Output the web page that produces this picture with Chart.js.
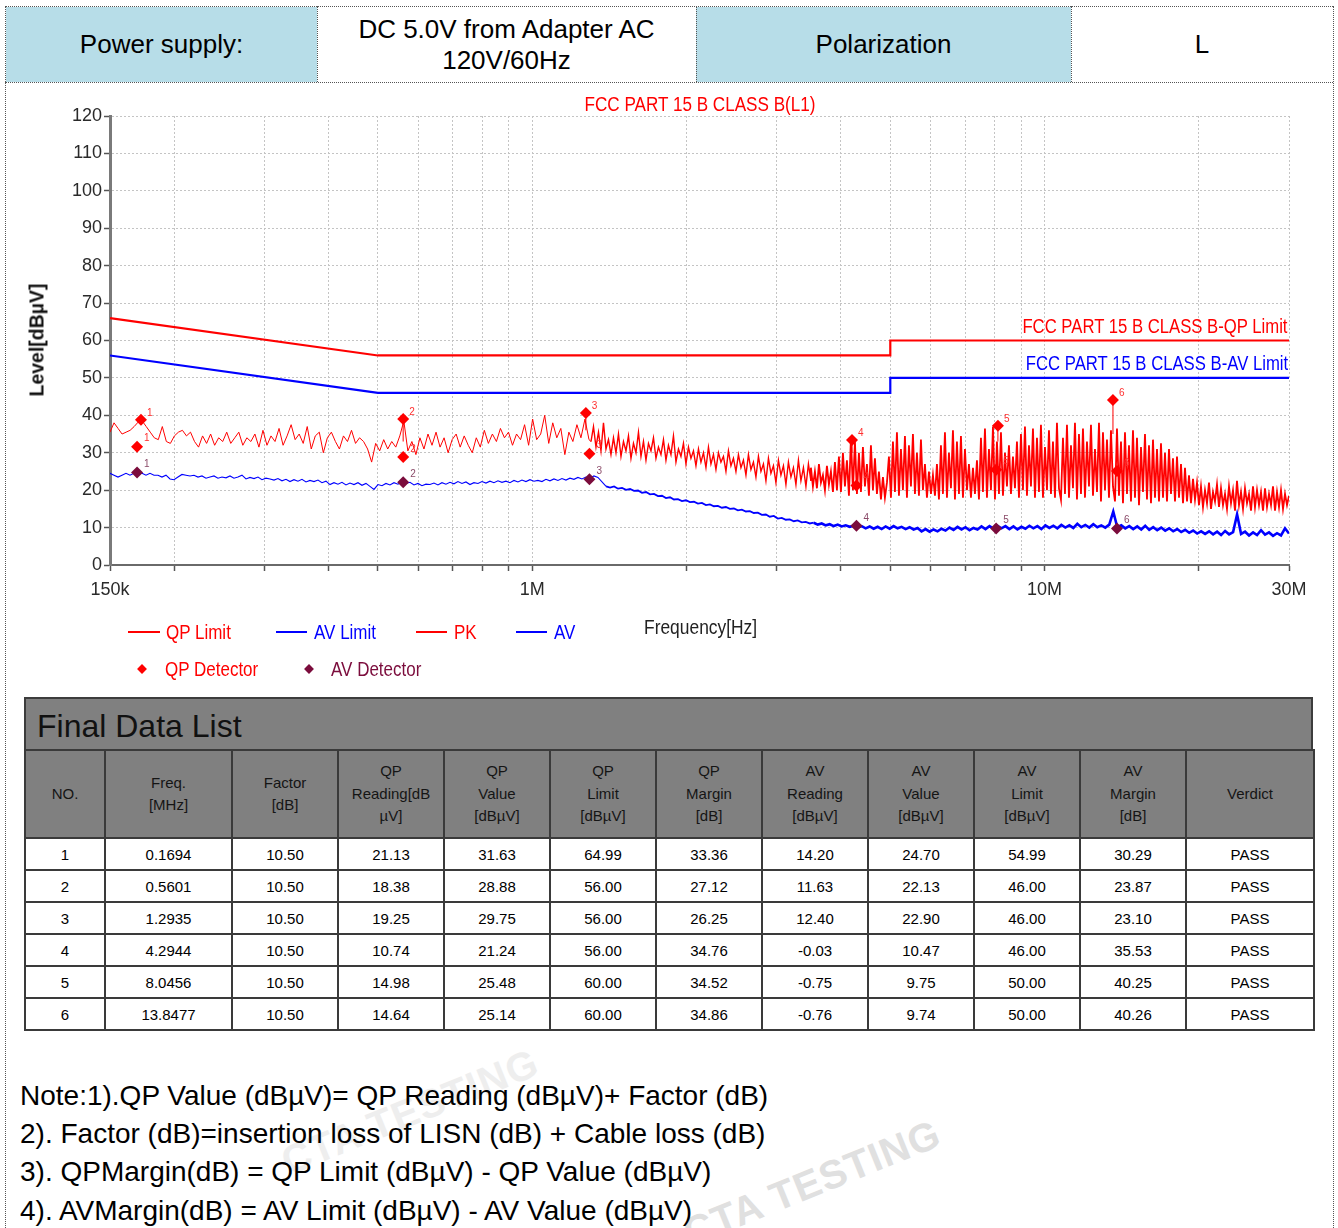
<!DOCTYPE html>
<html>
<head>
<meta charset="utf-8">
<script src="https://cdn.jsdelivr.net/npm/chart.js@4.4.1/dist/chart.umd.min.js"></script>
<style>
  html, body { margin:0; padding:0; background:#fff; }
  body { width:1338px; height:1228px; position:relative; overflow:hidden; font-family:"Liberation Sans", Arial, sans-serif; color:#000; }
  .abs { position:absolute; }
  .narrow { font-family:"Liberation Sans", Arial, sans-serif; font-size:20px; white-space:nowrap; }
  .cell { position:absolute; top:7px; height:75px; display:flex; align-items:center; justify-content:center; text-align:center; font-size:26px; line-height:31px; box-sizing:border-box; }
  .blue { background:#b7dde8; }
  .vdot { position:absolute; border-left:1px dotted #555; }
  .hdot { position:absolute; border-top:1px dotted #555; }
  #final { position:absolute; left:24px; top:697px; width:1289px; }
  #final .title { height:52px; box-sizing:border-box; background:#808080; border:2px solid #3c3c3c; border-bottom:none; font-size:32px; line-height:54px; padding-left:11px; color:#111; }
  #final table { border-collapse:collapse; table-layout:fixed; width:1289px; }
  #final td, #final th { border:2px solid #3a3a3a; text-align:center; padding:0; }
  #final th { background:#808080; font-weight:normal; font-size:15px; line-height:22.5px; height:86px; color:#151515; }
  #final td { height:30px; font-size:15px; color:#000; background:#fff; }
  .note { position:absolute; left:20px; font-size:28px; white-space:nowrap; }
  .lg { position:absolute; transform-origin:left center; transform:translateY(-50%) scaleX(0.85); }
  .lgline { position:absolute; height:2px; }
  .lgdia { position:absolute; width:7px; height:7px; transform:translate(-50%,-50%) rotate(45deg); }
  .wm { position:absolute; font-weight:bold; white-space:nowrap; transform:translate(-50%,-50%) rotate(-22deg); letter-spacing:1px; }
</style>
</head>
<body>
<!-- watermarks -->
<div class="wm" style="left:812px;top:1183px;font-size:40px;color:#e0e0e0;">CTA TESTING</div>
<div class="wm" style="left:410px;top:1112px;font-size:40px;color:#eeeeee;">CTA TESTING</div>

<!-- frame -->
<div class="vdot" style="left:5px;top:6px;height:1222px;"></div>
<div class="vdot" style="left:1333px;top:6px;height:1222px;"></div>
<div class="hdot" style="left:5px;top:6px;width:1328px;"></div>
<div class="hdot" style="left:5px;top:82px;width:1328px;"></div>

<!-- header row -->
<div class="cell blue" style="left:6px;width:311px;">Power supply:</div>
<div class="cell" style="left:317px;width:379px;">DC 5.0V from Adapter AC<br>120V/60Hz</div>
<div class="cell blue" style="left:696px;width:375px;">Polarization</div>
<div class="cell" style="left:1071px;width:262px;">L</div>
<div class="vdot" style="left:317px;top:6px;height:76px;"></div>
<div class="vdot" style="left:696px;top:6px;height:76px;"></div>
<div class="vdot" style="left:1071px;top:6px;height:76px;"></div>

<!-- chart -->
<canvas id="c" width="1326" height="606" style="position:absolute;left:6px;top:84px;width:1326px;height:606px;"></canvas>

<div class="abs narrow" style="left:700px;top:104px;transform:translate(-50%,-50%) scaleX(0.855);color:#ff0000;">FCC PART 15 B CLASS B(L1)</div>
<div class="abs narrow" style="right:50px;top:326px;transform-origin:right center;transform:translateY(-50%) scaleX(0.835);color:#ff0000;">FCC PART 15 B CLASS B-QP Limit</div>
<div class="abs narrow" style="right:50px;top:363px;transform-origin:right center;transform:translateY(-50%) scaleX(0.835);color:#0000ff;">FCC PART 15 B CLASS B-AV Limit</div>
<div class="abs" style="left:37px;top:340px;transform:translate(-50%,-50%) rotate(-90deg);font-size:19.5px;font-weight:bold;color:#111;white-space:nowrap;">Level[dBµV]</div>
<div class="abs narrow" style="left:644px;top:627px;transform-origin:left center;transform:translateY(-50%) scaleX(0.87);color:#222;">Frequency[Hz]</div>

<!-- legend -->
<div class="lgline" style="left:128px;top:631px;width:32px;background:#ff0000;"></div>
<div class="lg narrow" style="left:166px;top:632px;color:#ff0000;">QP Limit</div>
<div class="lgline" style="left:276px;top:631px;width:31px;background:#0000ff;"></div>
<div class="lg narrow" style="left:314px;top:632px;color:#0000ff;">AV Limit</div>
<div class="lgline" style="left:416px;top:631px;width:31px;background:#ff0000;"></div>
<div class="lg narrow" style="left:454px;top:632px;color:#ff0000;">PK</div>
<div class="lgline" style="left:516px;top:631px;width:31px;background:#0000ff;"></div>
<div class="lg narrow" style="left:554px;top:632px;color:#0000ff;">AV</div>
<div class="lgdia" style="left:142px;top:669px;background:#ff0000;"></div>
<div class="lg narrow" style="left:165px;top:669px;color:#ff0000;">QP Detector</div>
<div class="lgdia" style="left:309px;top:669px;background:#7b0c3c;"></div>
<div class="lg narrow" style="left:331px;top:669px;color:#7b0c3c;">AV Detector</div>

<!-- final data list -->
<div id="final">
  <div class="title">Final Data List</div>
  <table id="tbl"></table>
</div>

<!-- notes -->
<div class="note" style="top:1080px;">Note:1).QP Value (dBµV)= QP Reading (dBµV)+ Factor (dB)</div>
<div class="note" style="top:1118px;">2). Factor (dB)=insertion loss of LISN (dB) + Cable loss (dB)</div>
<div class="note" style="top:1156px;">3). QPMargin(dB) = QP Limit (dBµV) - QP Value (dBµV)</div>
<div class="note" style="top:1195px;">4). AVMargin(dB) = AV Limit (dBµV) - AV Value (dBµV)</div>

<script>
// ---------------- DATA ----------------
// Limit lines (frequency in MHz, level in dBµV)
const limitFreqMHz = [0.15, 0.5, 5, 5, 30];
const qpLimitLevel = [66, 56, 56, 60, 60];
const avLimitLevel = [56, 46, 46, 50, 50];

// PK sweep, in four frequency bands (start/stop MHz) with read-off levels (dBµV)
const pkBandStartMHz = [0.15, 1.3026, 3.50, 20.2];
const pkBandStopMHz  = [1.291, 3.50, 20.02, 30];
const pkLevels1 = [35.5, 38.0, 36.5, 35.0, 35.5, 36.0, 37.0, 38.2, 38.5, 37.0,
  35.5, 34.0, 33.5, 37.0, 33.0, 32.5, 34.5, 35.5, 36.0, 34.5,
  35.5, 33.0, 31.5, 34.5, 32.5, 35.0, 32.0, 34.0, 33.0, 35.5,
  32.5, 34.0, 35.5, 32.0, 34.0, 33.0, 35.0, 31.5, 36.0, 32.0,
  34.5, 33.0, 36.5, 32.0, 34.5, 37.5, 33.5, 35.0, 32.5, 37.0,
  31.0, 34.5, 35.5, 30.0, 34.0, 35.5, 33.0, 31.0, 34.5, 33.0,
  36.0, 32.5, 34.0, 33.0, 31.0, 27.5, 32.5, 30.5, 33.5, 31.0,
  33.0, 31.5, 34.5, 38.5, 30.5, 33.0, 29.5, 34.0, 31.0, 35.0,
  32.0, 35.5, 31.5, 34.0, 30.0, 33.5, 35.0, 31.5, 34.5, 32.0,
  30.0, 34.0, 31.5, 36.0, 32.5, 35.0, 33.0, 36.5, 34.0, 35.5,
  32.0, 35.0, 33.5, 37.5, 32.0, 39.0, 33.5, 35.0, 40.0, 32.5,
  38.0, 34.0, 36.5, 29.5, 35.5, 33.0, 37.5, 34.0, 39.0, 33.5];
const pkLevels2 = [33.0, 37.0, 31.5, 35.5, 30.5, 38.0, 31.0, 33.5, 29.5, 34.0,
  30.0, 35.0, 29.0, 33.0, 30.5, 34.5, 28.5, 32.5, 30.0, 35.5,
  29.0, 33.0, 28.0, 32.5, 30.5, 34.0, 28.5, 31.5, 29.5, 33.5,
  28.0, 32.0, 29.5, 34.5, 27.5, 31.0, 29.0, 32.5, 27.0, 31.5,
  28.5, 30.5, 26.5, 31.0, 27.5, 30.0, 26.0, 31.5, 27.0, 29.5,
  25.5, 30.0, 27.5, 29.0, 25.0, 30.5, 26.5, 28.5, 25.0, 29.5,
  26.0, 28.0, 24.0, 29.5, 25.5, 27.5, 23.5, 29.0, 25.0, 27.0,
  22.5, 28.5, 24.5, 26.5, 22.0, 28.0, 24.0, 26.5, 21.5, 27.5,
  23.5, 26.0, 21.5, 28.0, 22.5, 26.0, 21.0, 27.0, 22.5];
const pkLevels3 = [26, 21, 25, 20.5, 27, 22, 24, 20, 26.5, 21.5, 25, 19.5, 27.5,
  20, 29, 19.5, 30, 21,
  28, 18.5, 34, 20, 33, 19, 30,
  19.5, 31.5, 21, 27, 18.5, 32, 20, 28.5, 19, 25,
  17.5, 23.5, 18, 22,
  29, 18, 33, 19.5, 35.5, 18.5, 31, 20, 34.5, 18, 32, 21, 35, 19, 30, 18.5, 33.5, 20, 27,
  18, 25, 19, 24, 18.5, 27,
  17.5, 32, 19, 35.5, 18, 30, 20.5, 36, 17.5, 33, 19, 34.5, 18, 31, 20,
  27, 18, 26, 19, 28,
  17.5, 34, 19.5, 36.5, 18, 31, 20, 37, 17.5, 33, 19, 35.5, 18.5, 30, 21,
  32, 19, 29, 20.5, 33,
  18, 35, 20, 37, 18.5, 32, 21, 36.5, 18, 34, 19.5, 37.5, 18, 31.5, 20, 36, 19, 33, 18, 38, 20.5,
  17.5, 34, 19, 37.5, 18, 32, 20.5, 38, 17.5, 35, 19, 36.5, 18, 33, 21, 37.5, 18.5, 31, 19.5, 38, 17, 35.5, 20, 33.5, 18, 36, 21,
  17, 36.5, 18.5, 33, 16.5, 35.5, 19, 32, 17, 36, 18, 34, 16, 31.5, 19.5, 35, 17.5, 32, 16.5, 33.5, 18, 31, 17,
  32.5, 18, 30, 17, 31, 19, 28.5, 17, 29, 18, 27, 16.5, 26,
  17, 24, 16.5, 23, 17.5, 22, 16];
const pkLevels4 = [21, 15.5, 20, 16.5, 22, 15, 19.5, 17, 21.5, 15.5,
  20.5, 16, 19, 15, 21, 16.5, 20, 14.5, 22.5, 16,
  19.5, 15, 20.5, 16.5, 19, 14.5, 21, 15.5, 20, 16,
  19.5, 14.5, 20.5, 15.5, 19, 16, 21, 14.5, 19.5, 15.5,
  20, 15, 19, 16, 18.5];

// AV sweep, two bands
const avBandStartMHz = [0.15, 1.394];
const avBandStopMHz  = [1.344, 30];
const avLevels1 = [24.5, 24.0, 23.5, 24.0, 24.5, 24.0, 24.5, 25.0, 24.5, 24.0,
  24.5, 24.0, 24.0, 23.5, 24.0, 23.0, 22.8, 23.5, 24.2, 24.0,
  23.8, 24.0, 23.5, 23.8, 23.2, 23.5, 23.8, 23.2, 23.5, 23.3,
  23.8, 23.2, 23.5, 24.0, 23.0, 23.4, 23.1, 23.5, 22.8, 23.2,
  23.0, 22.7, 23.1, 22.5, 22.9, 22.3, 22.8, 22.4, 22.9, 22.2,
  22.6, 22.3, 22.7, 22.0, 22.4, 21.5, 22.0, 21.6, 22.1, 21.4,
  21.9, 21.5, 22.0, 21.3, 21.8, 21.0, 20.2, 21.5, 21.2, 21.8,
  21.4, 22.0, 21.6, 22.2, 21.8, 22.1, 21.4, 21.8, 21.2, 21.6,
  21.5, 21.9, 21.4, 22.0, 21.6, 22.1, 21.7, 22.3, 21.8, 22.2,
  21.5, 22.0, 21.8, 22.3, 21.9, 22.4, 22.0, 22.5, 22.1, 22.4,
  22.0, 22.6, 22.2, 22.7, 22.3, 22.8, 22.4, 22.6, 22.3, 22.9,
  22.5, 23.0, 22.6, 23.1, 22.7, 23.2, 22.9, 23.4, 23.0, 23.5,
  23.2, 23.8, 23.4];
const avLevels2 = [21.0, 20.7, 21.0, 20.4, 20.6, 20.1, 20.3, 19.8, 19.9, 19.3,
  19.5, 18.9, 19.0, 18.4, 18.5, 17.9, 18.1, 17.5, 17.6, 17.1,
  17.3, 16.8, 16.9, 16.4, 16.6,
  16.0, 16.2, 15.7, 15.8, 15.3, 15.5, 15.0, 15.1, 14.6, 14.8,
  14.3, 14.4, 13.9, 14.0, 13.4, 13.5, 12.9, 13.1, 12.4, 12.6,
  12.1, 12.2, 11.7, 11.9, 11.4,
  11.5, 11.1, 11.3, 10.8, 11.1, 10.6, 10.9, 10.4, 10.8, 10.3,
  10.6, 10.2, 10.5, 10.0, 10.4, 9.8, 10.3, 9.7, 10.2, 9.6,
  10.3, 9.7, 10.4, 9.8, 10.2,
  9.6, 10.1, 9.5, 9.9, 9.0, 9.6, 8.9, 9.5, 9.0, 9.7,
  9.2, 10.0, 9.4, 10.2, 9.5, 10.1, 9.3, 9.9, 9.5, 10.3,
  9.6, 10.4, 9.7, 10.5, 9.8,
  10.4, 9.6, 10.3, 9.5, 10.2, 9.7, 10.5, 9.8, 10.4, 9.6,
  10.6, 9.9, 10.5, 9.8, 10.7, 10.0, 10.6, 9.9, 11.0, 10.1,
  10.7, 10.0, 10.9, 10.1, 10.6,
  10.0, 10.8, 14.3, 10.1, 10.6, 9.8, 10.4, 9.6, 10.3, 9.5,
  10.5, 9.4, 10.1, 9.3, 10.0, 9.2, 9.8, 9.0, 9.6, 8.8,
  9.4, 8.6, 9.2, 8.4, 9.0,
  8.3, 9.0, 8.2, 8.9, 8.0, 9.1, 8.2, 8.8, 13.5, 8.3,
  8.9, 7.9, 8.7, 8.0, 9.3, 8.1, 8.7, 7.8, 8.5, 7.9,
  9.8, 8.4];

// Markers
const markerNo = ['1', '2', '3', '4', '5', '6'];
const pkMarkFreqMHz = [0.1724, 0.5601, 1.273, 4.21, 8.11, 13.6];
const pkMarkLevel   = [38.8, 39.0, 40.6, 33.4, 37.2, 44.1];
const pkMarkBase    = [37.5, 33.0, 36.0, 30.0, 33.0, 35.0];
const detFreqMHz    = [0.1694, 0.5601, 1.2935, 4.2944, 8.0456, 13.8477];
const qpValue       = [31.63, 28.88, 29.75, 21.24, 25.48, 25.14];
const avValue       = [24.70, 22.13, 22.90, 10.47, 9.75, 9.74];

// Axis ticks
const xGridMHz = [0.15, 0.2, 0.3, 0.4, 0.5, 0.6, 0.7, 0.8, 0.9, 1, 2, 3, 4, 5, 6, 7, 8, 9, 10, 20, 30];
const xTickValue = [0.15, 1, 10, 30];
const xTickText  = ['150k', '1M', '10M', '30M'];

// Final data table
const tblHeaders = ['NO.', 'Freq.<br>[MHz]', 'Factor<br>[dB]', 'QP<br>Reading[dB<br>µV]', 'QP<br>Value<br>[dBµV]', 'QP<br>Limit<br>[dBµV]', 'QP<br>Margin<br>[dB]', 'AV<br>Reading<br>[dBµV]', 'AV<br>Value<br>[dBµV]', 'AV<br>Limit<br>[dBµV]', 'AV<br>Margin<br>[dB]', 'Verdict'];
const tblColWidth = [80, 127, 106, 106, 106, 106, 106, 106, 106, 106, 106, 128];
const tblFreq      = ['0.1694', '0.5601', '1.2935', '4.2944', '8.0456', '13.8477'];
const tblFactor    = [10.50, 10.50, 10.50, 10.50, 10.50, 10.50];
const tblQpReading = [21.13, 18.38, 19.25, 10.74, 14.98, 14.64];
const tblQpLimit   = [64.99, 56.00, 56.00, 56.00, 60.00, 60.00];
const tblQpMargin  = [33.36, 27.12, 26.25, 34.76, 34.52, 34.86];
const tblAvReading = [14.20, 11.63, 12.40, -0.03, -0.75, -0.76];
const tblAvLimit   = [54.99, 46.00, 46.00, 46.00, 50.00, 50.00];
const tblAvMargin  = [30.29, 23.87, 23.10, 35.53, 40.25, 40.26];
const tblVerdict   = ['PASS', 'PASS', 'PASS', 'PASS', 'PASS', 'PASS'];

// ---------------- TABLE ----------------
(function () {
  const t = document.getElementById('tbl');
  let html = '<colgroup>' + tblColWidth.map(w => '<col style="width:' + w + 'px">').join('') + '</colgroup>';
  html += '<tr>' + tblHeaders.map(h => '<th>' + h + '</th>').join('') + '</tr>';
  for (let i = 0; i < markerNo.length; i++) {
    const row = [markerNo[i], tblFreq[i], tblFactor[i].toFixed(2), tblQpReading[i].toFixed(2), qpValue[i].toFixed(2),
      tblQpLimit[i].toFixed(2), tblQpMargin[i].toFixed(2), tblAvReading[i].toFixed(2), avValue[i].toFixed(2),
      tblAvLimit[i].toFixed(2), tblAvMargin[i].toFixed(2), tblVerdict[i]];
    html += '<tr>' + row.map(c => '<td>' + c + '</td>').join('') + '</tr>';
  }
  t.innerHTML = html;
})();

// ---------------- CHART ----------------
const FONT = '"Liberation Sans", Arial, sans-serif';

function sweep(startMHz, stopMHz, levels) {
  const n = levels.length;
  const r = Math.log10(stopMHz / startMHz);
  return levels.map((v, i) => ({ x: startMHz * Math.pow(10, r * i / (n - 1)), y: v }));
}
function pairs(xs, ys) { return xs.map((x, i) => ({ x: x, y: ys[i] })); }

const pkLevels = [pkLevels1, pkLevels2, pkLevels3, pkLevels4];
const pkData = [].concat(...pkLevels.map((lv, i) => sweep(pkBandStartMHz[i], pkBandStopMHz[i], lv)));
const avLevelsAll = [avLevels1, avLevels2];
const avData = [].concat(...avLevelsAll.map((lv, i) => sweep(avBandStartMHz[i], avBandStopMHz[i], lv)));

// marker numbers and peak-marker stems
const markerLabelPlugin = {
  id: 'markerLabels',
  afterDatasetsDraw(chart) {
    const ctx = chart.ctx;
    chart.data.datasets.forEach((ds, i) => {
      if (!ds.markLabels) return;
      const meta = chart.getDatasetMeta(i);
      ctx.save();
      if (ds.stemBase) {
        ctx.strokeStyle = ds.pointBackgroundColor;
        ctx.lineWidth = 1;
        meta.data.forEach((pt, j) => {
          const yb = chart.scales.y.getPixelForValue(ds.stemBase[j]);
          ctx.beginPath(); ctx.moveTo(pt.x, pt.y); ctx.lineTo(pt.x, yb); ctx.stroke();
        });
      }
      ctx.font = '10px ' + FONT;
      ctx.fillStyle = ds.labelColor;
      ctx.textAlign = 'left';
      ctx.textBaseline = 'middle';
      meta.data.forEach((pt, j) => ctx.fillText(ds.markLabels[j], pt.x + ds.labelDx, pt.y + ds.labelDy));
      ctx.restore();
    });
  }
};

const tickFont = { family: FONT, size: 18 };

new Chart(document.getElementById('c'), {
  type: 'line',
  data: {
    datasets: [
      { label: 'PK marker', data: pairs(pkMarkFreqMHz, pkMarkLevel), showLine: false, pointStyle: 'rectRot',
        pointRadius: 6, pointBackgroundColor: '#ff0000', pointBorderColor: '#ff0000', pointBorderWidth: 0,
        markLabels: markerNo, stemBase: pkMarkBase, labelColor: '#ff3030', labelDx: 6, labelDy: -7, order: 0 },
      { label: 'QP Detector', data: pairs(detFreqMHz, qpValue), showLine: false, pointStyle: 'rectRot',
        pointRadius: 6, pointBackgroundColor: '#ff0000', pointBorderColor: '#ff0000', pointBorderWidth: 0,
        markLabels: markerNo, labelColor: '#ff3030', labelDx: 7, labelDy: -8, order: 0 },
      { label: 'AV Detector', data: pairs(detFreqMHz, avValue), showLine: false, pointStyle: 'rectRot',
        pointRadius: 6, pointBackgroundColor: '#7b0c3c', pointBorderColor: '#7b0c3c', pointBorderWidth: 0,
        markLabels: markerNo, labelColor: '#8a4a68', labelDx: 7, labelDy: -8, order: 0 },
      { label: 'QP Limit', data: pairs(limitFreqMHz, qpLimitLevel), borderColor: '#ff0000', borderWidth: 2.2,
        pointRadius: 0, tension: 0, order: 1 },
      { label: 'AV Limit', data: pairs(limitFreqMHz, avLimitLevel), borderColor: '#0000ff', borderWidth: 2.2,
        pointRadius: 0, tension: 0, order: 1 },
      { label: 'AV', data: avData, borderColor: '#0000ff', borderWidth: 1.2, pointRadius: 0, tension: 0, order: 2,
        segment: { borderWidth: c => c.p0.parsed.x >= 3.5 ? 2.6 : (c.p0.parsed.x >= 1.39 ? 1.8 : 1.1) } },
      { label: 'PK', data: pkData, borderColor: '#ff0000', borderWidth: 1, pointRadius: 0, tension: 0, order: 3,
        segment: { borderWidth: c => c.p0.parsed.x >= 3.5 ? 1.8 : (c.p0.parsed.x >= 1.3 ? 1.4 : 1) } }
    ]
  },
  options: {
    responsive: false,
    animation: false,
    devicePixelRatio: 1,
    layout: { padding: { left: 0, right: 43, top: 32, bottom: 0 } },
    plugins: { legend: { display: false }, tooltip: { enabled: false }, title: { display: false } },
    scales: {
      x: {
        type: 'logarithmic', min: 0.15, max: 30, position: 'bottom',
        afterBuildTicks: s => { s.ticks = xGridMHz.map(v => ({ value: v })); },
        afterFit: s => { s.height = 125; },
        ticks: {
          autoSkip: false, maxRotation: 0, minRotation: 0, padding: 8, color: '#2a2a2a', font: tickFont,
          callback: v => { const k = xTickValue.findIndex(t => Math.abs(t - v) < 1e-6); return k >= 0 ? xTickText[k] : ''; }
        },
        grid: { color: '#c4c4c4', lineWidth: 1, drawTicks: true, tickLength: 6, tickColor: '#555', tickWidth: 1.5, tickBorderDash: [] },
        border: { color: '#6a6a6a', width: 2, dash: [2, 2] }
      },
      y: {
        min: 0, max: 120,
        afterFit: s => { s.width = 104; },
        ticks: { stepSize: 10, padding: 2, color: '#2a2a2a', font: tickFont },
        grid: { color: '#c4c4c4', lineWidth: 1, drawTicks: true, tickLength: 6, tickColor: '#555', tickWidth: 1.5, tickBorderDash: [] },
        border: { color: '#7a7a7a', width: 3, dash: [2, 2] }
      }
    }
  },
  plugins: [markerLabelPlugin]
});
</script>
</body>
</html>
